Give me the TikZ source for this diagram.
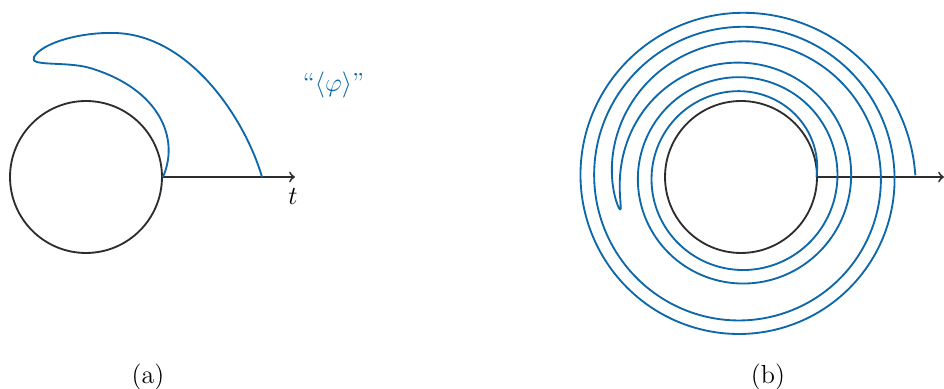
\documentclass[tikz,border=0pt]{standalone}
\usepackage{tikz}
\definecolor{cblue}{RGB}{13,104,170}
\definecolor{cgray}{RGB}{45,45,45}
\begin{document}
\begin{tikzpicture}[x=0.46pt,y=0.46pt,
  ring/.style={circle,draw=cgray,line width=0.85pt,inner sep=0pt,minimum size=69.9pt},
  axisline/.style={draw=cgray,line width=0.85pt,->},
  wave/.style={draw=cblue,line width=0.85pt,line join=round},
  lab/.style={inner sep=0pt,font=\large},
  declare function={hh(\x)=31*\x+12*\x^4+6.5*(max(0,(\x-0.95)/0.05))^2;
                    rr(\x)=125+sign(\x)*hh(abs(\x));}]
\useasboundingbox (0,0) rectangle (944,389);
% panel (a)
\node[ring] (c1) at (86,212) {};
\coordinate (a1) at (295,212);
\draw[axisline] (c1.east) -- (a1);
\node[lab] (tl) at (293,193) {$t$};
\coordinate (tip) at (34,332);
\coordinate (foot) at (262,212);
\draw[wave] (c1.east) .. controls (180,250) and (160,300) .. (90,321)
  .. controls (66,328) and (28,322) .. (tip)
  .. controls (42,346) and (80,357) .. (115,356)
  .. controls (190,354) and (245,270) .. (foot);
\node[lab,text=cblue] (phi) at (333.5,304) {``$\langle\varphi\rangle$''};
\node[lab] (la) at (148,12) {(a)};
% panel (b)
\node[ring] (c2) at (741,212) {};
\coordinate (a2) at (944,212);
\draw[axisline] (c2.east) -- (a2);
\draw[wave] plot[domain=-1:1,samples=801,smooth,variable=\s]
 ({741+rr(\s)*cos(915*(1-\s*\s))},{212+rr(\s)*sin(915*(1-\s*\s))});
\node[lab] (lb) at (768,12) {(b)};
\end{tikzpicture}
\end{document}
